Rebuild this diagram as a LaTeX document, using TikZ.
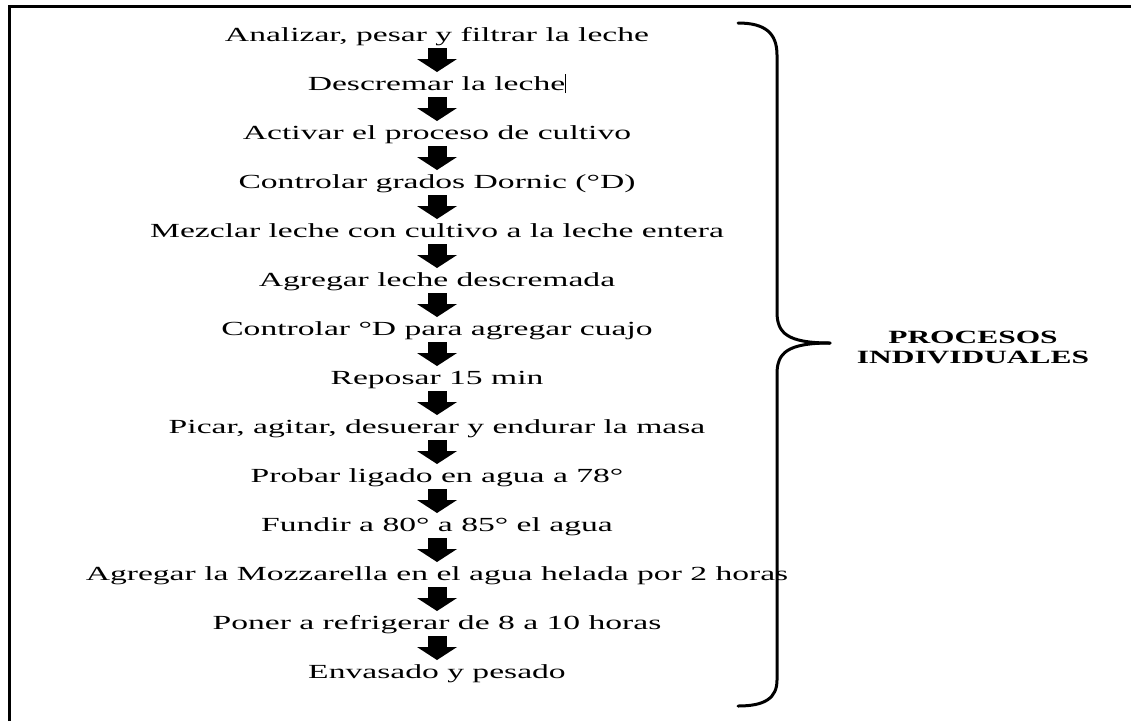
\documentclass[tikz,border=0pt]{standalone}
\usepackage{fontspec}
\setmainfont{Liberation Serif}
\newfontfamily\tf[FakeStretch=1.68]{Liberation Serif}
\usetikzlibrary{arrows.meta}
\tikzset{
  stepnode/.style={anchor=base, inner sep=0pt, font=\tf\fontsize{20}{24}\selectfont},
  flowarrow/.style={line width=19pt, -{Triangle[width=40pt,length=13pt,line width=0pt]}, shorten <=7pt, shorten >=18pt},
  framestyle/.style={line width=3pt},
  bracestyle/.style={line width=3pt, line cap=round},
  labelnode/.style={align=center, inner sep=0pt, font=\tf\bfseries\fontsize{18.7}{20}\selectfont}
}
\begin{document}
\begin{tikzpicture}[x=1pt,y=-1pt]
\useasboundingbox (0,0) rectangle (1131,721);
\fill[white] (0,0) rectangle (1131,721);
\draw[framestyle] (9,721) -- (9,6) -- (1131,6);
\node[stepnode] (s1) at (437,41) {Analizar, pesar y filtrar la leche};
\node[stepnode] (s2) at (437,90) {Descremar la leche\rule[-0.15em]{1pt}{0.95em}};
\node[stepnode] (s3) at (437,139) {Activar el proceso de cultivo};
\node[stepnode] (s4) at (437,188) {Controlar grados Dornic (°D)};
\node[stepnode] (s5) at (437,237) {Mezclar leche con cultivo a la leche entera};
\node[stepnode] (s6) at (437,286) {Agregar leche descremada};
\node[stepnode] (s7) at (437,335) {Controlar °D para agregar cuajo};
\node[stepnode] (s8) at (437,384) {Reposar 15 min};
\node[stepnode] (s9) at (437,433) {Picar, agitar, desuerar y endurar la masa};
\node[stepnode] (s10) at (437,482) {Probar ligado en agua a 78°};
\node[stepnode] (s11) at (437,531) {Fundir a 80° a 85° el agua};
\node[stepnode] (s12) at (437,580) {Agregar la Mozzarella en el agua helada por 2 horas};
\node[stepnode] (s13) at (437,629) {Poner a refrigerar de 8 a 10 horas};
\node[stepnode] (s14) at (437,678) {Envasado y pesado};
\foreach \a/\b in {1/2,2/3,3/4,4/5,5/6,6/7,7/8,8/9,9/10,10/11,11/12,12/13,13/14}
  \draw[flowarrow] (s\a.base) -- (s\b.base);
\draw[bracestyle] (738,23) .. controls (765,23) and (777,33) .. (777,55) -- (777,312)
  .. controls (777,333) and (787,343) .. (830,343);
\draw[bracestyle] (830,343) .. controls (787,343) and (777,353) .. (777,374) -- (777,680)
  .. controls (777,698) and (765,706) .. (738,706);
\node[labelnode] (lab) at (973,347) {PROCESOS\\INDIVIDUALES};
\end{tikzpicture}
\end{document}
